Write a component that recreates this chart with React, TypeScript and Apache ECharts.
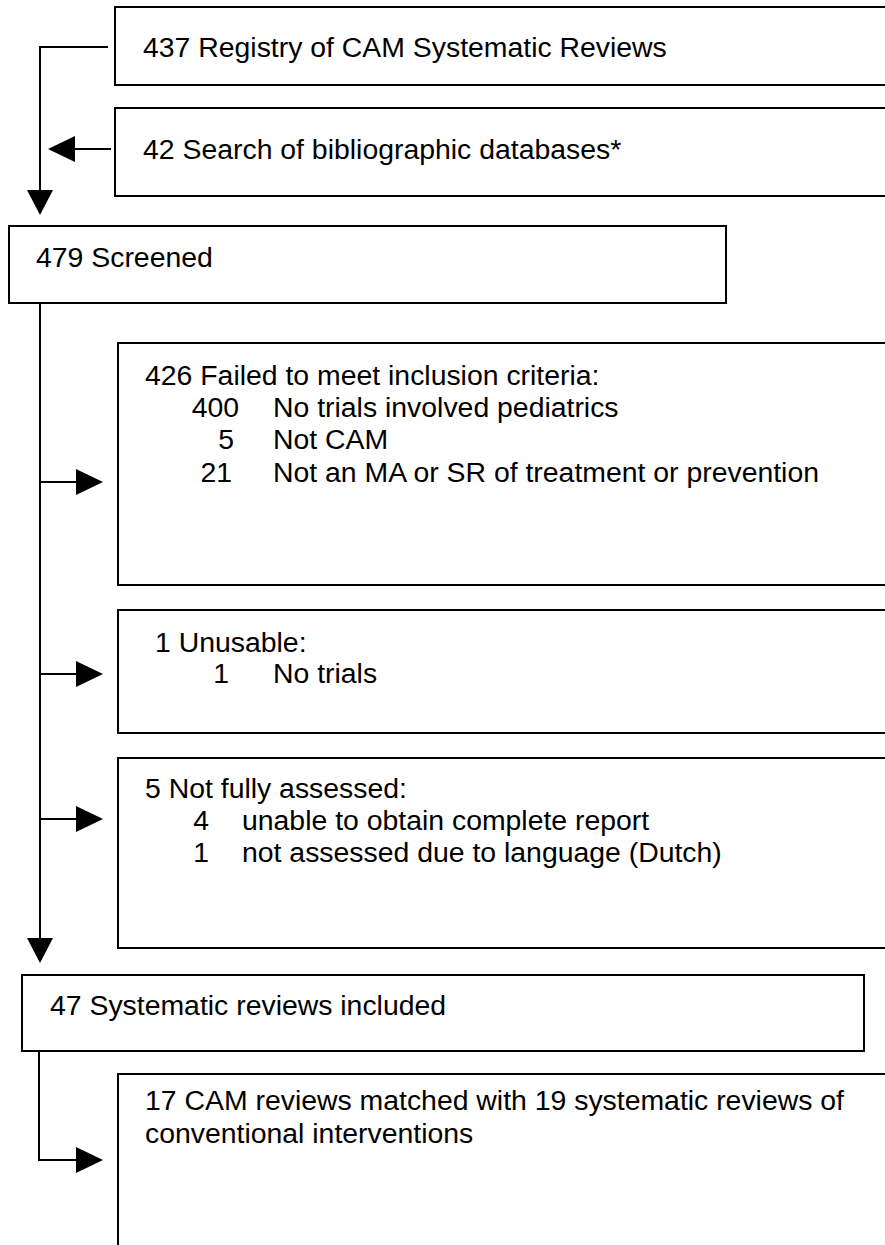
import React, { useEffect, useRef } from "react";
import * as echarts from "echarts";

// ---- Flow data (counts and labels) ----
const sourceCounts = [437, 42];
const sourceLabels = ["Registry of CAM Systematic Reviews", "Search of bibliographic databases*"];
const screenedCount = 479;
const screenedLabel = "Screened";
const exclusionCounts = [426, 1, 5];
const exclusionTitles = ["Failed to meet inclusion criteria:", "Unusable:", "Not fully assessed:"];
const failedCounts = [400, 5, 21];
const failedReasons = ["No trials involved pediatrics", "Not CAM", "Not an MA or SR of treatment or prevention"];
const unusableCounts = [1];
const unusableReasons = ["No trials"];
const notAssessedCounts = [4, 1];
const notAssessedReasons = ["unable to obtain complete report", "not assessed due to language (Dutch)"];
const includedCount = 47;
const includedLabel = "Systematic reviews included";
const matchedCounts = [17, 19];

const FONT = "'Liberation Sans', Arial, Helvetica, sans-serif";
const FS = 28.4;

function txt(x: number, y: number, text: string, align: string = "left") {
  return {
    type: "text",
    x,
    y,
    style: {
      text,
      fill: "#000",
      font: `${FS}px ${FONT}`,
      textAlign: align,
      textVerticalAlign: "middle",
    },
    silent: true,
  };
}

function box(x: number, y: number, w: number, h: number) {
  return {
    type: "rect",
    shape: { x, y, width: w, height: h },
    style: { fill: "none", stroke: "#000", lineWidth: 2 },
    silent: true,
  };
}

function line(points: number[][]) {
  return {
    type: "polyline",
    shape: { points },
    style: { fill: "none", stroke: "#000", lineWidth: 2 },
    silent: true,
  };
}

function tri(points: number[][]) {
  return {
    type: "polygon",
    shape: { points },
    style: { fill: "#000", stroke: "none" },
    silent: true,
  };
}

function rightArrow(y: number) {
  return [line([[40, y], [77, y]]), tri([[76, y - 13], [103, y], [76, y + 13]])];
}

export default function App() {
  const ref = useRef<HTMLDivElement>(null);

  useEffect(() => {
    if (!ref.current) return;
    const chart = echarts.init(ref.current, null, { renderer: "svg" });

    const elements: any[] = [
      // Sources
      box(115, 7, 800, 78),
      txt(143, 47, `${sourceCounts[0]} ${sourceLabels[0]}`),
      box(115, 108, 800, 88),
      txt(143, 149, `${sourceCounts[1]} ${sourceLabels[1]}`),
      // connector from source 1 down to screened
      line([[108, 47], [40, 47], [40, 192]]),
      tri([[27, 190], [40, 215], [53, 190]]),
      // arrow from source 2
      line([[111, 149], [74, 149]]),
      tri([[75, 136], [48, 149], [75, 162]]),
      // Screened
      box(9, 226, 717, 77),
      txt(36, 257, `${screenedCount} ${screenedLabel}`),
      // main vertical
      line([[40, 303], [40, 940]]),
      tri([[27, 938], [40, 963], [53, 938]]),
      // Exclusion box 1
      box(118, 343, 800, 242),
      ...rightArrow(482),
      txt(145, 375, `${exclusionCounts[0]} ${exclusionTitles[0]}`),
      txt(239, 407, `${failedCounts[0]}`, "right"),
      txt(273, 407, failedReasons[0]),
      txt(234, 439, `${failedCounts[1]}`, "right"),
      txt(273, 439, failedReasons[1]),
      txt(232, 472, `${failedCounts[2]}`, "right"),
      txt(273, 472, failedReasons[2]),
      // Exclusion box 2
      box(118, 610, 800, 123),
      ...rightArrow(674),
      txt(155, 642, `${exclusionCounts[1]} ${exclusionTitles[1]}`),
      txt(229, 673, `${unusableCounts[0]}`, "right"),
      txt(273, 673, unusableReasons[0]),
      // Exclusion box 3
      box(118, 758, 800, 190),
      ...rightArrow(819),
      txt(145, 788, `${exclusionCounts[2]} ${exclusionTitles[2]}`),
      txt(209, 820, `${notAssessedCounts[0]}`, "right"),
      txt(242, 820, notAssessedReasons[0]),
      txt(209, 852, `${notAssessedCounts[1]}`, "right"),
      txt(242, 852, notAssessedReasons[1]),
      // Included
      box(22, 975, 842, 76),
      txt(50, 1005, `${includedCount} ${includedLabel}`),
      line([[39, 1051], [39, 1160], [77, 1160]]),
      tri([[76, 1147], [103, 1160], [76, 1173]]),
      // Matched
      box(118, 1074, 800, 220),
      txt(145, 1100, `${matchedCounts[0]} CAM reviews matched with ${matchedCounts[1]} systematic reviews of`),
      txt(145, 1133, "conventional interventions"),
    ];

    chart.setOption({
      animation: false,
      backgroundColor: "#fff",
      graphic: { elements },
    });

    return () => chart.dispose();
  }, []);

  return (
    <div
      ref={ref}
      style={{ position: "fixed", left: 0, top: 0, width: 885, height: 1245 }}
    />
  );
}
